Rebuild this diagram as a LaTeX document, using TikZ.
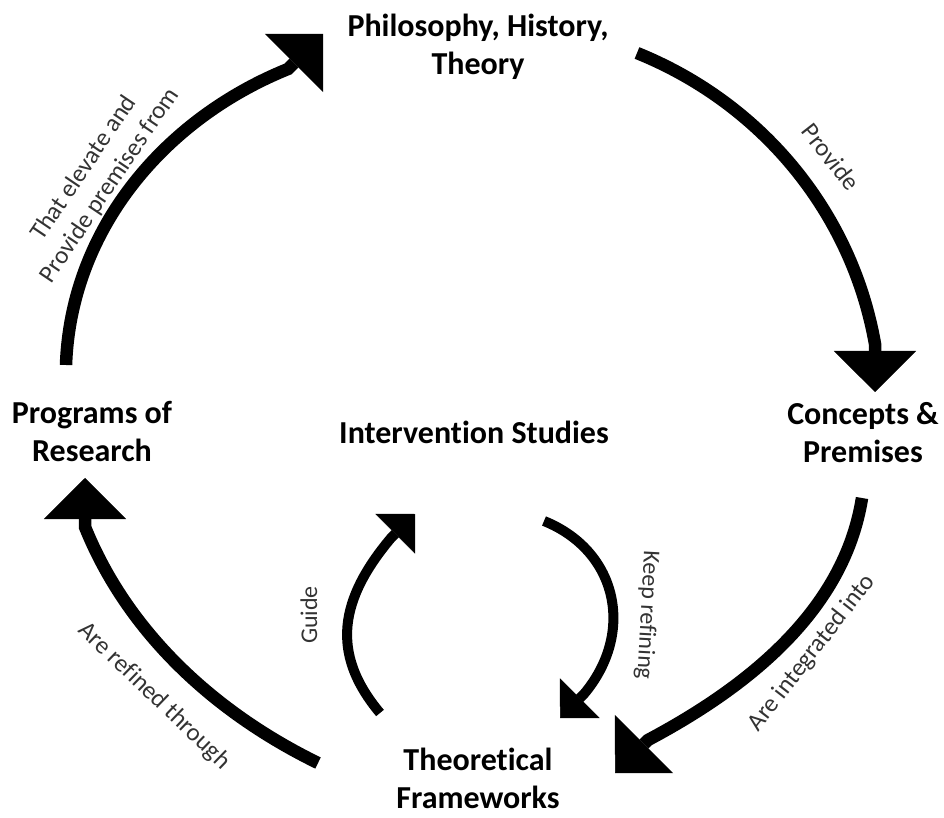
\documentclass[tikz,border=0pt]{standalone}
\usepackage{fontspec}
\setmainfont{Carlito}[Ligatures=NoCommon]
\usetikzlibrary{arrows.meta}

\begin{document}
\begin{tikzpicture}
            [x=1pt, y=1pt,
            every node/.style={inner sep=0pt, align=center},
            stage/.style={font=\fontsize{32}{38}\selectfont\bfseries},
            linklabel/.style={font=\fontsize{25}{31}\selectfont, text=black!80},
            innerlabel/.style={font=\fontsize{24}{28}\selectfont, text=black!80},
            bigarrow/.style={line width=12.5pt,
              -{Triangle[length=41pt,width=82pt,line width=0.5pt]}},
            smallarrow/.style={line width=10pt,
              -{Triangle[length=28pt,width=56pt,line width=0.5pt]}}]
            \path[use as bounding box] (0,0) rectangle (944,817);

            \node[stage] (phil) at (478,770) {Philosophy, History,\\Theory};
            \node[stage] (concepts) at (863,384) {Concepts \&\\Premises};
            \node[stage] (programs) at (92,385) {Programs of\\Research};
            \node[stage] (interv) at (474,385) {Intervention Studies};
            \node[stage] (theory) at (478,39) {Theoretical\\Frameworks};

            \coordinate (a1s) at (66,452);
            \coordinate (a1k) at (288,748);
            \coordinate (a1t) at (323,783);
            \coordinate (a2s) at (637,764);
            \coordinate (a2k) at (875,473);
            \coordinate (a2t) at (875,425);
            \coordinate (a3s) at (862,319);
            \coordinate (a3k) at (648,77);
            \coordinate (a3t) at (615,44);
            \coordinate (a4s) at (318,54);
            \coordinate (a4k) at (85,290);
            \coordinate (a4t) at (85,339);
            \coordinate (a5s) at (380,104);
            \coordinate (a5k) at (391,279);
            \coordinate (a5t) at (415,303);
            \coordinate (a6s) at (544,296);
            \coordinate (a6k) at (584,123);
            \coordinate (a6t) at (560,99);

            \draw[bigarrow] (a1s) to[out=88,in=202,looseness=0.93] (a1k) -- (a1t);
            \draw[bigarrow] (a2s) to[out=-22,in=100,looseness=0.91] (a2k) -- (a2t);
            \draw[bigarrow] (a3s) to[out=-99,in=28,looseness=0.9] (a3k) -- (a3t);
            \draw[bigarrow] (a4s) to[out=154,in=-68,looseness=0.88] (a4k) -- (a4t);
            \draw[smallarrow] (a5s) to[out=130,in=230,looseness=1.15] (a5k) -- (a5t);
            \draw[smallarrow] (a6s) to[out=-22,in=50,looseness=1.15] (a6k) -- (a6t);

            \node[linklabel, rotate=56] (elevate) at (97,640) {That elevate and\\Provide premises from};
            \node[linklabel, rotate=-52] (provide) at (831,660) {Provide};
            \node[linklabel, rotate=52] (integrate) at (812,164) {Are integrated into};
            \node[linklabel, rotate=-44] (refine) at (154,121) {Are refined through};
            \node[innerlabel, rotate=90] (guide) at (309,202) {Guide};
            \node[innerlabel, rotate=-93] (keeprefine) at (647,202) {Keep refining};
\end{tikzpicture}
\end{document}
